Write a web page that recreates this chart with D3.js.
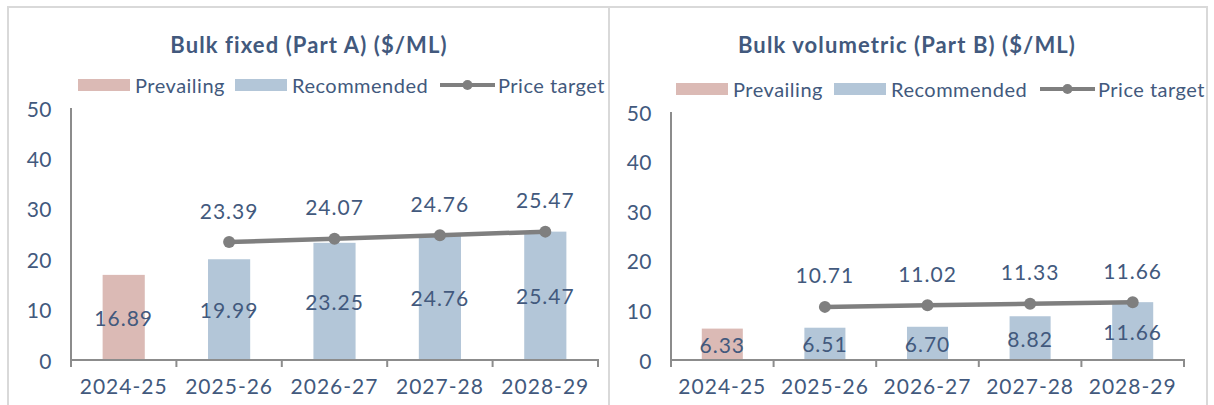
<!DOCTYPE html>
<html>
<head>
<meta charset="utf-8">
<script src="https://cdn.jsdelivr.net/npm/d3@7"></script>
<style>
  html, body { margin: 0; padding: 0; background: #ffffff; }
  svg { display: block; font-family: Lato, "Noto Sans", sans-serif; }
</style>
</head>
<body>
<svg id="chart" width="1214" height="405"></svg>
<script>
// ---- data ----
const categories = ["2024-25", "2025-26", "2026-27", "2027-28", "2028-29"];
const yTicks = [0, 10, 20, 30, 40, 50];

const fixedTitle = "Bulk fixed (Part A) ($/ML)";
const fixedPrevailing = [16.89, null, null, null, null];
const fixedRecommended = [null, 19.99, 23.25, 24.76, 25.47];
const fixedTarget = [null, 23.39, 24.07, 24.76, 25.47];

const volTitle = "Bulk volumetric (Part B) ($/ML)";
const volPrevailing = [6.33, null, null, null, null];
const volRecommended = [null, 6.51, 6.70, 8.82, 11.66];
const volTarget = [null, 10.71, 11.02, 11.33, 11.66];

const legendLabels = ["Prevailing", "Recommended", "Price target"];

// ---- styles ----
const C_PREV = "#dbbab5";
const C_REC = "#b3c6d8";
const C_LINE = "#7f7f7f";
const C_TEXT = "#42597d";
const C_AXIS = "#8c8c8c";
const C_BORDER = "#d9d9d9";
const FS = 21, LS = 1;

const svg = d3.select("#chart");

function panel(cfg, title, prev, rec, target) {
  const g = svg.append("g");
  // border
  g.append("rect")
    .attr("x", cfg.bx).attr("y", 7)
    .attr("width", cfg.bw).attr("height", 400)
    .attr("fill", "none").attr("stroke", C_BORDER).attr("stroke-width", 2);

  // title
  g.append("text")
    .attr("x", cfg.tx).attr("y", 44)
    .attr("text-anchor", "middle").attr("dominant-baseline", "central")
    .attr("font-size", 22).attr("font-weight", "bold").attr("letter-spacing", 1.1).attr("fill", C_TEXT)
    .text(title);

  // legend
  const ly = cfg.ly;
  const L = cfg.legend;
  const legText = (xx, t) => g.append("text").attr("x", xx).attr("y", ly).attr("dominant-baseline", "central")
    .attr("font-size", 20).attr("letter-spacing", 0.5).attr("fill", C_TEXT).text(t);
  g.append("rect").attr("x", L[0]).attr("y", ly - 6).attr("width", 52).attr("height", 12).attr("fill", C_PREV);
  legText(L[0] + 57, legendLabels[0]);
  g.append("rect").attr("x", L[1]).attr("y", ly - 6).attr("width", 52).attr("height", 12).attr("fill", C_REC);
  legText(L[1] + 57, legendLabels[1]);
  g.append("line").attr("x1", L[2]).attr("x2", L[2] + 55).attr("y1", ly).attr("y2", ly)
    .attr("stroke", C_LINE).attr("stroke-width", 4);
  g.append("circle").attr("cx", L[2] + 27.5).attr("cy", ly).attr("r", 5).attr("fill", C_LINE);
  legText(L[2] + 58, legendLabels[2]);

  // scales
  const x = d3.scaleBand().domain(categories).range([cfg.x0, cfg.x1]).padding(0);
  const y = d3.scaleLinear().domain([0, 50]).range([cfg.y0, cfg.yTop]);
  const bw = x.bandwidth() * 0.4;

  // y labels
  g.selectAll(".yl").data(yTicks).join("text")
    .attr("x", cfg.x0 - 19).attr("y", d => y(d))
    .attr("text-anchor", "end").attr("dominant-baseline", "central")
    .attr("font-size", FS).attr("letter-spacing", 0.5).attr("fill", C_TEXT).text(d => d);

  // bars
  const barData = categories.map((c, i) => ({ c, v: prev[i] != null ? prev[i] : rec[i], prev: prev[i] != null }));
  g.selectAll(".bar").data(barData).join("rect")
    .attr("x", d => x(d.c) + (x.bandwidth() - bw) / 2)
    .attr("y", d => y(d.v))
    .attr("width", bw)
    .attr("height", d => y(0) - y(d.v))
    .attr("fill", d => d.prev ? C_PREV : C_REC);

  // axes
  g.append("line").attr("x1", cfg.x0).attr("x2", cfg.x0).attr("y1", cfg.yTop).attr("y2", cfg.y0 + 1)
    .attr("stroke", C_AXIS).attr("stroke-width", 2);
  const xAxis = d3.axisBottom(x).tickSize(0).tickFormat(d => d);
  const ax = g.append("g").attr("transform", `translate(0,${cfg.y0})`).call(xAxis);
  ax.select(".domain").remove();
  ax.selectAll("text").attr("font-size", FS).attr("letter-spacing", LS).attr("fill", C_TEXT).attr("dy", null)
    .attr("y", 25).attr("dominant-baseline", "central").attr("font-family", "Lato, 'Noto Sans', sans-serif");
  g.append("line").attr("x1", cfg.x0 - 1).attr("x2", cfg.x1 + 1).attr("y1", cfg.y0).attr("y2", cfg.y0)
    .attr("stroke", C_AXIS).attr("stroke-width", 2);
  const bounds = categories.map(c => x(c)).concat([cfg.x1]);
  g.selectAll(".xt").data(bounds).join("line")
    .attr("x1", d => d).attr("x2", d => d).attr("y1", cfg.y0).attr("y2", cfg.y0 + 7)
    .attr("stroke", C_AXIS).attr("stroke-width", 2);

  // bar labels (centred)
  g.selectAll(".bl").data(barData).join("text")
    .attr("x", d => x(d.c) + x.bandwidth() / 2)
    .attr("y", d => y(d.v / 2))
    .attr("text-anchor", "middle").attr("dominant-baseline", "central")
    .attr("font-size", FS).attr("letter-spacing", LS).attr("fill", C_TEXT).text(d => d.v.toFixed(2));

  // line
  const lineData = categories.map((c, i) => ({ c, v: target[i] })).filter(d => d.v != null);
  const line = d3.line().x(d => x(d.c) + x.bandwidth() / 2).y(d => y(d.v));
  g.append("path").datum(lineData).attr("d", line)
    .attr("fill", "none").attr("stroke", C_LINE).attr("stroke-width", 4.5);
  g.selectAll(".pt").data(lineData).join("circle")
    .attr("cx", d => x(d.c) + x.bandwidth() / 2).attr("cy", d => y(d.v)).attr("r", 6)
    .attr("fill", C_LINE);
  g.selectAll(".pl").data(lineData).join("text")
    .attr("x", d => x(d.c) + x.bandwidth() / 2)
    .attr("y", d => y(d.v) - 32)
    .attr("text-anchor", "middle").attr("dominant-baseline", "central")
    .attr("font-size", FS).attr("letter-spacing", LS).attr("fill", C_TEXT).text(d => d.v.toFixed(2));
}

panel({ bx: 8, bw: 601, tx: 309, ly: 85, legend: [78, 235, 440], x0: 71, x1: 598, y0: 360, yTop: 108 },
  fixedTitle, fixedPrevailing, fixedRecommended, fixedTarget);
panel({ bx: 609, bw: 598, tx: 907, ly: 89, legend: [676, 834, 1040], x0: 671, x1: 1184, y0: 360, yTop: 112 },
  volTitle, volPrevailing, volRecommended, volTarget);
</script>
</body>
</html>
